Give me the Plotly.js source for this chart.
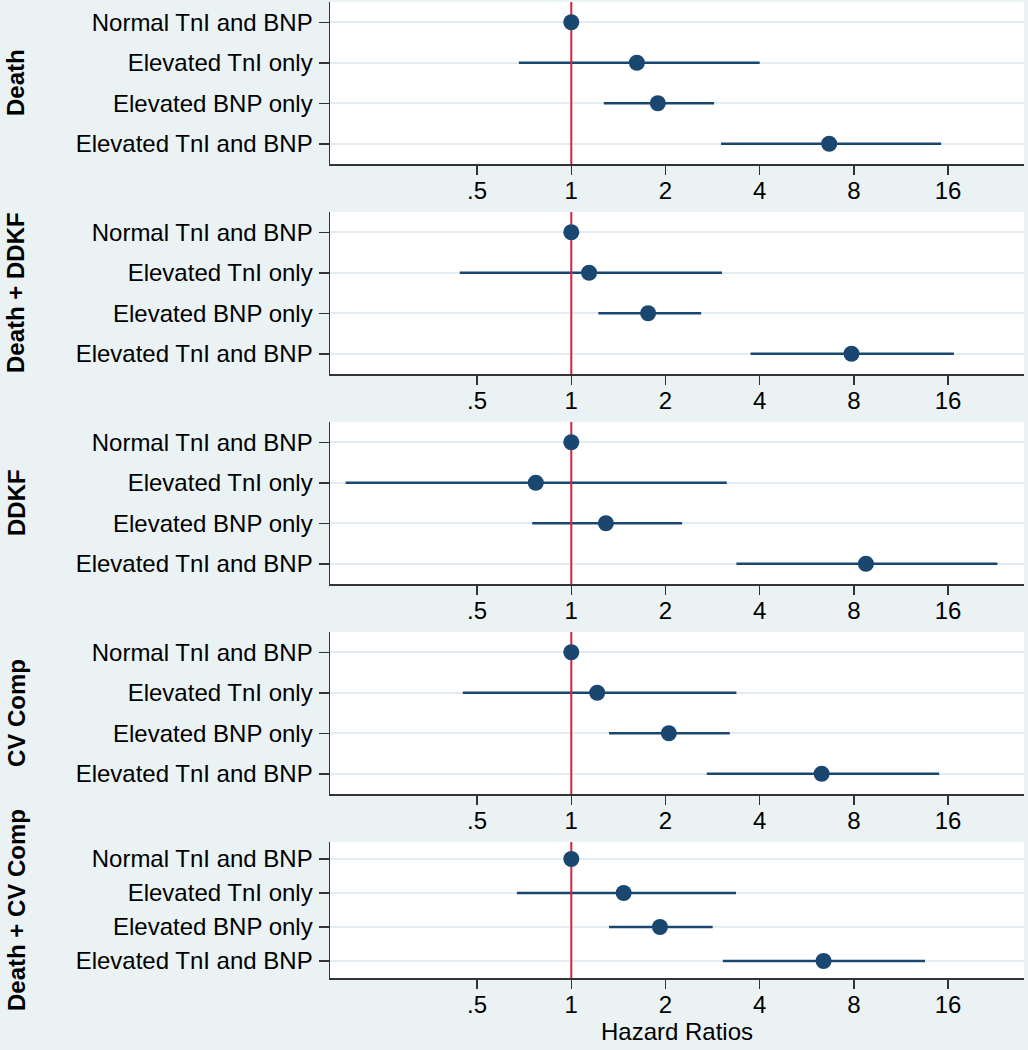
<!DOCTYPE html>
<html>
<head>
<meta charset="utf-8">
<script src="https://cdn.plot.ly/plotly-3.0.1.min.js"></script>
<style>html,body{margin:0;padding:0;background:#eaf2f3;}#chart{width:1028px;height:1050px;}</style>
</head>
<body>
<div id="chart"></div>
<script>
// ---- Data ----
const categories = ['Normal TnI and BNP', 'Elevated TnI only', 'Elevated BNP only', 'Elevated TnI and BNP'];
const outcomes = ['Death', 'Death + DDKF', 'DDKF', 'CV Comp', 'Death + CV Comp'];

const hrDeath      = [1, 1.62, 1.89, 6.67];
const loDeath      = [null, 0.68, 1.27, 3.01];
const hiDeath      = [null, 4.00, 2.86, 15.2];

const hrDeathDDKF  = [1, 1.14, 1.76, 7.86];
const loDeathDDKF  = [null, 0.44, 1.22, 3.74];
const hiDeathDDKF  = [null, 3.03, 2.60, 16.7];

const hrDDKF       = [1, 0.77, 1.29, 8.74];
const loDDKF       = [null, 0.19, 0.75, 3.37];
const hiDDKF       = [null, 3.14, 2.26, 23.0];

const hrCVComp     = [1, 1.21, 2.05, 6.31];
const loCVComp     = [null, 0.45, 1.32, 2.71];
const hiCVComp     = [null, 3.37, 3.21, 14.98];

const hrDeathCV    = [1, 1.47, 1.92, 6.40];
const loDeathCV    = [null, 0.67, 1.32, 3.05];
const hiDeathCV    = [null, 3.36, 2.83, 13.5];

const referenceHR = 1;
const xTickVals = [0.5, 1, 2, 4, 8, 16];
const xTickText = ['.5', '1', '2', '4', '8', '16'];
const xAxisTitle = 'Hazard Ratios';

const panels = [
  {hr: hrDeath, lo: loDeath, hi: hiDeath},
  {hr: hrDeathDDKF, lo: loDeathDDKF, hi: hiDeathDDKF},
  {hr: hrDDKF, lo: loDDKF, hi: hiDDKF},
  {hr: hrCVComp, lo: loCVComp, hi: hiCVComp},
  {hr: hrDeathCV, lo: loDeathCV, hi: hiDeathCV}
];

// ---- Styling / layout ----
const W = 1028, H = 1050;
const FONT = 'Liberation Sans, Arial, Helvetica, sans-serif';
const NAVY = '#1a476f';
const RED = '#d42440';
const BG = '#eaf2f3';
const panelPx = [[2, 164], [212, 374], [422, 584], [632, 794], [842, 978]]; // top, bottom in px
const xDomain = [330 / W, 1024 / W];
const xRange = [-0.7711, 1.4467];
const yPos = categories.map((c, i) => i + 1);

const traces = [];
const layout = {
  width: W, height: H,
  margin: {l: 0, r: 0, t: 0, b: 0},
  paper_bgcolor: BG,
  plot_bgcolor: '#ffffff',
  showlegend: false,
  font: {family: FONT, size: 24, color: '#000'},
  annotations: []
};

panels.forEach((p, i) => {
  const sfx = i === 0 ? '' : String(i + 1);
  const xa = 'x' + sfx, ya = 'y' + sfx;
  // CI segments
  const cx = [], cy = [];
  p.hr.forEach((v, k) => {
    if (p.lo[k] != null) { cx.push(p.lo[k], p.hi[k], null); cy.push(yPos[k], yPos[k], null); }
  });
  traces.push({x: cx, y: cy, xaxis: xa, yaxis: ya, mode: 'lines', type: 'scatter',
    line: {color: NAVY, width: 2.5}, hoverinfo: 'skip'});
  // reference line at HR = 1
  traces.push({x: [referenceHR, referenceHR], y: [0.5, 4.5], xaxis: xa, yaxis: ya, mode: 'lines', type: 'scatter',
    line: {color: RED, width: 2}, hoverinfo: 'skip'});
  // point estimates
  traces.push({x: p.hr, y: yPos, xaxis: xa, yaxis: ya, mode: 'markers', type: 'scatter',
    marker: {color: NAVY, size: 16}, hoverinfo: 'x+y'});

  const top = panelPx[i][0], bot = panelPx[i][1];
  layout['xaxis' + sfx] = {
    domain: xDomain, anchor: ya, type: 'log', range: xRange,
    tickmode: 'array', tickvals: xTickVals, ticktext: xTickText,
    ticks: 'outside', ticklen: 9, tickwidth: 1.5, tickcolor: '#333', ticklabelstandoff: -4,
    showline: true, linecolor: '#333', linewidth: 1.5, showgrid: false, zeroline: false,
    tickfont: {size: 24, family: FONT, color: '#000'}
  };
  layout['yaxis' + sfx] = {
    domain: [1 - bot / H, 1 - top / H], anchor: xa, range: [4.5, 0.5],
    tickmode: 'array', tickvals: yPos, ticktext: categories,
    ticks: 'outside', ticklen: 10, tickwidth: 1.5, tickcolor: '#333', ticklabelstandoff: 1,
    showline: true, linecolor: '#333', linewidth: 1.5,
    showgrid: true, gridcolor: '#e3edf1', gridwidth: 2, zeroline: false,
    tickfont: {size: 24, family: FONT, color: '#000'}
  };
  layout.annotations.push({
    text: '<b>' + outcomes[i] + '</b>', xref: 'paper', yref: 'paper',
    x: 16 / W, y: 1 - ((top + bot) / 2) / H, xanchor: 'center', yanchor: 'middle',
    textangle: -90, showarrow: false, font: {size: 24, family: FONT, color: '#000'}
  });
});

layout.xaxis5.title = {text: xAxisTitle, font: {size: 24, family: FONT, color: '#000'}, standoff: 4};

Plotly.newPlot('chart', traces, layout, {displayModeBar: false, staticPlot: true});
</script>
</body>
</html>
